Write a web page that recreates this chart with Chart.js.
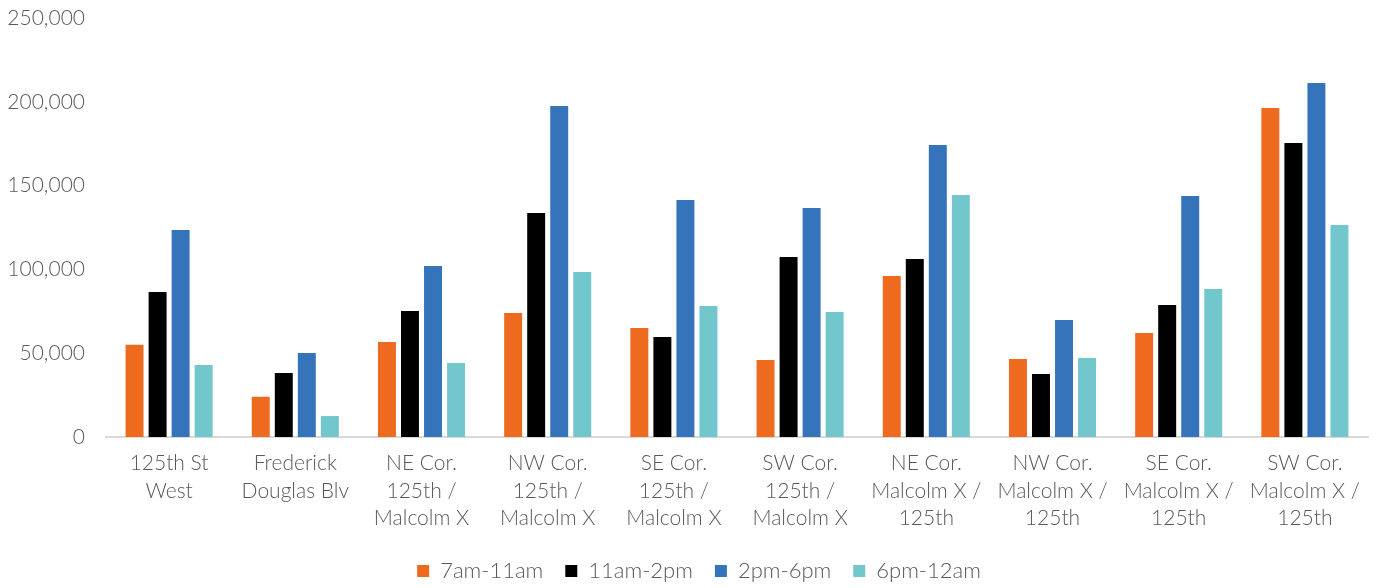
<!DOCTYPE html>
<html>
<head>
<meta charset="utf-8">
<script src="https://cdn.jsdelivr.net/npm/chart.js@4/dist/chart.umd.min.js"></script>
<style>
html,body{margin:0;padding:0;background:#fff;}
#wrap{width:1382px;height:588px;position:relative;}
</style>
</head>
<body>
<div id="wrap"><canvas id="c"></canvas></div>
<script>
const categories = [
  ["125th St", "West"],
  ["Frederick", "Douglas Blv"],
  ["NE Cor.", "125th /", "Malcolm X"],
  ["NW Cor.", "125th /", "Malcolm X"],
  ["SE Cor.", "125th /", "Malcolm X"],
  ["SW Cor.", "125th /", "Malcolm X"],
  ["NE Cor.", "Malcolm X /", "125th"],
  ["NW Cor.", "Malcolm X /", "125th"],
  ["SE Cor.", "Malcolm X /", "125th"],
  ["SW Cor.", "Malcolm X /", "125th"]
];
const seriesNames = ["7am-11am", "11am-2pm", "2pm-6pm", "6pm-12am"];
const s7to11 = [55000, 24000, 56700, 74000, 65000, 46000, 96000, 46500, 62000, 196300];
const s11to2 = [86500, 38200, 75200, 133700, 59700, 107400, 106200, 37600, 78800, 175400];
const s2to6 = [123500, 50100, 102000, 197500, 141400, 136600, 174200, 69800, 143800, 211200];
const s6to12 = [43000, 12500, 44200, 98500, 78200, 74600, 144400, 47100, 88300, 126500];
const colors = ["#ED6A1F", "#000000", "#3573BB", "#72C7CD"];

const FONT = "'Lato', 'Open Sans', sans-serif";
const TXT = "#595959";

const legendShift = {
  id: 'legendShift',
  afterLayout(chart) {
    if (chart.legend) { chart.legend.left += 15; chart.legend.right += 15; }
  }
};

new Chart(document.getElementById('c'), {
  type: 'bar',
  data: {
    labels: categories,
    datasets: [s7to11, s11to2, s2to6, s6to12].map((d, i) => ({
      label: seriesNames[i],
      data: d,
      backgroundColor: colors[i],
      borderWidth: 0,
      barPercentage: 0.78,
      categoryPercentage: 0.73
    }))
  },
  plugins: [legendShift],
  options: {
    responsive: true,
    maintainAspectRatio: false,
    animation: false,
    layout: { padding: { left: 0, right: 14, top: 0, bottom: -4 } },
    plugins: {
      legend: {
        position: 'bottom',
        labels: {
          boxWidth: 12, boxHeight: 12, padding: 22,
          color: TXT,
          font: { family: FONT, size: 22, weight: 300 }
        }
      },
      tooltip: { enabled: false }
    },
    scales: {
      x: {
        grid: { display: false, drawTicks: false },
        border: { color: '#D9D9D9', width: 2 },
        afterFit: s => { s.height = 101; },
        ticks: { color: TXT, font: { family: FONT, size: 21, weight: 300, lineHeight: 1.3 }, padding: 13, maxRotation: 0, autoSkip: false }
      },
      y: {
        min: 0, max: 250000,
        grid: { display: false, drawTicks: false },
        border: { display: false },
        afterFit: s => { s.width = 106; s.paddingTop = 18; },
        ticks: {
          stepSize: 50000,
          color: TXT,
          padding: 21,
          font: { family: FONT, size: 21, weight: 300 },
          callback: v => v.toLocaleString('en-US')
        }
      }
    }
  }
});
</script>
</body>
</html>
